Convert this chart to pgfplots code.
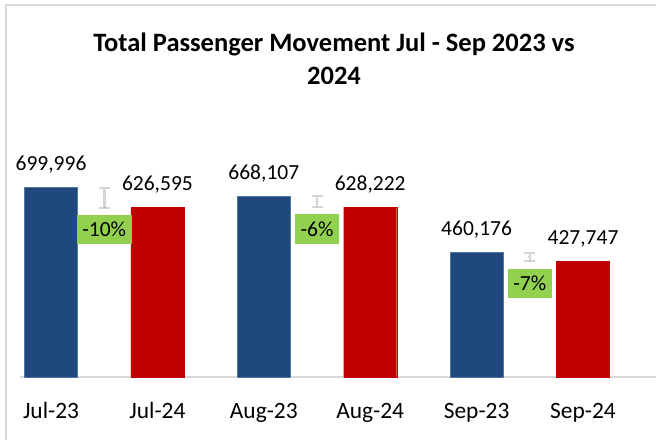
\documentclass[border=0pt]{standalone}
\usepackage{pgfplots}
\pgfplotsset{compat=1.18}
\usepackage{fontspec}
\setmainfont{Carlito}
\definecolor{barblue}{HTML}{1F497D}
\definecolor{barred}{HTML}{C00000}
\definecolor{boxgreen}{HTML}{92D050}
\definecolor{lgray}{HTML}{D9D9D9}
\definecolor{igray}{HTML}{D6D6D6}
\begin{document}
\begin{tikzpicture}
\useasboundingbox (0,0) rectangle (656pt,440pt);
\fill[white] (0,0) rectangle (656pt,440pt);
\draw[lgray, line width=1.3pt] (6pt,0pt) -- (6pt,435pt) -- (656pt,435pt);
\node[font=\fontsize{26.5}{32}\selectfont\bfseries, anchor=base, inner sep=0pt] at (334pt,388.3pt) {Total Passenger Movement Jul - Sep 2023 vs};
\node[font=\fontsize{26.5}{32}\selectfont\bfseries, anchor=base, inner sep=0pt] at (334pt,355pt) {2024};
\begin{axis}[
  at={(20pt,63pt)}, anchor=south west,
  width=636pt, height=270.3pt, scale only axis,
  xmin=-0.2914, xmax=5.686, ymin=0, ymax=1000000,
  axis x line*=bottom, axis y line=none,
  x axis line style={lgray, line width=1.3pt, -},
  xtick={0,1,2,3,4,5},
  xticklabels={Jul-23,Jul-24,Aug-23,Aug-24,Sep-23,Sep-24},
  major tick length=0pt,
  xticklabel style={font=\fontsize{23.4}{28}\selectfont, anchor=base, yshift=-41pt},
  ytick=\empty,
  clip=false,
]
\addplot[ybar, bar width=53pt, bar shift=0pt, fill=barblue, draw=barblue!75!white, line width=0.6pt,
  nodes near coords, point meta=explicit symbolic,
  every node near coord/.style={font=\fontsize{21.5}{26}\selectfont, anchor=base, yshift=17pt, text=black}]
  coordinates {(0,699996)[699,996] (2,668107)[668,107] (4,460176)[460,176]};
\addplot[ybar, bar width=53pt, bar shift=0pt, fill=barred, draw=barred, line width=0.3pt,
  nodes near coords, point meta=explicit symbolic,
  every node near coord/.style={font=\fontsize{21.5}{26}\selectfont, anchor=base, yshift=17pt, text=black}]
  coordinates {(1,626595)[626,595] (3,628222)[628,222] (5,427747)[427,747]};
\addplot[igray, line width=2.6pt, only marks, mark=*, mark size=0.01pt, mark options={draw=none, fill=none},
  error bars/.cd, y dir=both, y explicit,
  error bar style={line width=2.6pt, draw=igray, solid},
  error mark=-,
  error mark options={rotate=90, draw=igray, line width=2pt, mark size=5.5pt}]
  coordinates {(0.5,663295.5) +- (0,36700.5) (2.5,648164.5) +- (0,19942.5) (4.5,443961.5) +- (0,16214.5)};
\addplot[only marks, mark=*, mark size=0.01pt, mark options={draw=none, fill=none},
  nodes near coords, point meta=explicit symbolic,
  every node near coord/.style={fill=boxgreen, font=\fontsize{21.5}{26}\selectfont, anchor=north, yshift=-7pt, inner xsep=5.5pt, minimum height=29.5pt, text=black}]
  coordinates {(0.5,626595)[-10\%] (2.5,628222)[-6\%] (4.5,427747)[-7\%]};
\end{axis}
\end{tikzpicture}
\end{document}
